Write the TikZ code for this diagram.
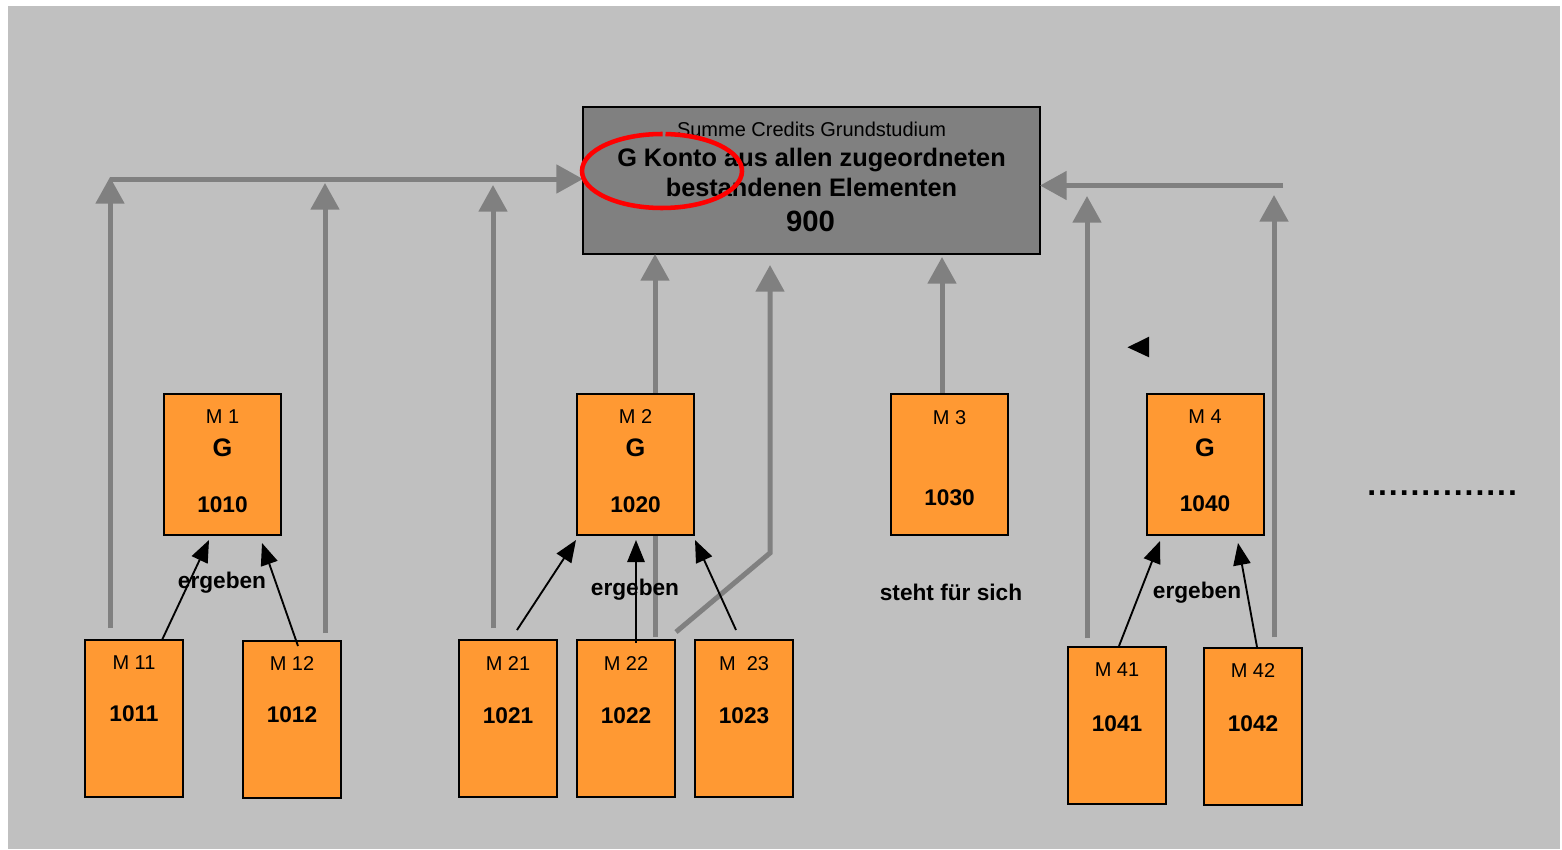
\documentclass[tikz,border=0pt]{standalone}
\usepackage{fontspec}
\setmainfont{Liberation Sans}
\usetikzlibrary{arrows.meta}
\definecolor{bggray}{RGB}{192,192,192}
\definecolor{lgray}{RGB}{128,128,128}
\definecolor{orng}{RGB}{255,153,51}
\definecolor{redc}{RGB}{255,0,0}
\newcommand\dd{.\kern1.45pt}
\begin{document}
\begin{tikzpicture}[x=0.75pt,y=-0.75pt,
  garrow/.style={draw=lgray,line width=3.75pt,-{Triangle[length=20pt,width=21pt]}},
  barrow/.style={draw=black,line width=1.4pt,-{Triangle[length=16.5pt,width=13pt]}},
  topbox/.style={draw=black,fill=lgray,line width=1.5pt,inner sep=0pt,outer sep=0pt,minimum width=342.75pt,minimum height=110.25pt},
  obox/.style={draw=black,fill=orng,line width=1.5pt,inner sep=0pt,outer sep=0pt,minimum width=87.75pt,minimum height=105.75pt},
  sbox/.style={obox,minimum width=73.5pt,minimum height=117.75pt},
  txt/.style={anchor=base,inner sep=0pt},
  mlbl/.style={txt,font=\fontsize{15}{17}\selectfont},
  glbl/.style={txt,font=\bfseries\fontsize{19}{21}\selectfont},
  clbl/.style={txt,font=\bfseries\fontsize{17}{19}\selectfont},
  elbl/.style={txt,font=\bfseries\fontsize{17}{19}\selectfont}
]
\useasboundingbox (0,0) rectangle (1562,849);
\fill[white] (0,0) rectangle (1562,849);
\fill[bggray] (8,6) rectangle (1560,849);

% top box
\node[topbox] (top) at (811.5,180.5) {};

% gray connectors
\coordinate (v1s) at (110,628);  \coordinate (v1e) at (110,177);
\coordinate (v2s) at (325,633);  \coordinate (v2e) at (325,183);
\coordinate (v3s) at (493,628);  \coordinate (v3e) at (493,185);
\coordinate (v4s) at (655,637);
\coordinate (v5s) at (676,632);  \coordinate (v5m) at (770,553); \coordinate (v5e) at (770,265);
\coordinate (v6s) at (942,394);  \coordinate (v6e) at (942,257);
\coordinate (v7s) at (1087,638); \coordinate (v7e) at (1087,196);
\coordinate (v8s) at (1274,637); \coordinate (v8e) at (1274,195);
\coordinate (h1) at (110,179);
\coordinate (h2) at (1283,185.5);

\draw[garrow] (v1s) -- (v1e);
\draw[garrow] (v2s) -- (v2e);
\draw[garrow] (v3s) -- (v3e);
\draw[garrow] (v4s) -- (v4s |- top.south);
\draw[garrow] (v5s) -- (v5m) -- (v5e);
\draw[garrow] (v6s) -- (v6e);
\draw[garrow] (v7s) -- (v7e);
\draw[garrow] (v8s) -- (v8e);
\draw[garrow] (h1) -- (h1 -| top.west);
\draw[garrow] (h2) -- (h2 -| top.east);

% orange boxes
\node[obox] (m1) at (222.5,464.5) {};
\node[obox] (m2) at (635.5,464.5) {};
\node[obox] (m3) at (949.5,464.5) {};
\node[obox] (m4) at (1205,464.5) {};
\node[sbox] (m11) at (134,718.5) {};
\node[sbox] (m12) at (292,719.5) {};
\node[sbox] (m21) at (508,718.5) {};
\node[sbox] (m22) at (626,718.5) {};
\node[sbox] (m23) at (744,718.5) {};
\node[sbox] (m41) at (1117,725.5) {};
\node[sbox] (m42) at (1253,726.5) {};

% black arrows
\coordinate (b1s) at (162,640);  \coordinate (b1e) at (209,540);
\coordinate (b2s) at (298,646);  \coordinate (b2e) at (262,543);
\coordinate (b3s) at (517,630);  \coordinate (b3e) at (576,540);
\coordinate (b4s) at (636,643);  \coordinate (b4e) at (636,540);
\coordinate (b5s) at (736,630);  \coordinate (b5e) at (695,540);
\coordinate (b6s) at (1119,646); \coordinate (b6e) at (1160,541);
\coordinate (b7s) at (1257,647); \coordinate (b7e) at (1238,543);
\draw[barrow] (b1s) -- (b1e);
\draw[barrow] (b2s) -- (b2e);
\draw[barrow] (b3s) -- (b3e);
\draw[barrow] (b4s) -- (b4e);
\draw[barrow] (b5s) -- (b5e);
\draw[barrow] (b6s) -- (b6e);
\draw[barrow] (b7s) -- (b7e);

% top box texts
\node[txt,font=\fontsize{15}{17}\selectfont] (t1) at (811.5,136.7) {Summe Credits Grundstudium};
\node[txt,font=\bfseries\fontsize{19}{21}\selectfont] (t2) at (811.5,166) {G Konto aus allen zugeordneten};
\node[txt,font=\bfseries\fontsize{19}{21}\selectfont] (t3) at (811.5,196.7) {bestandenen Elementen};
\node[txt,font=\bfseries\fontsize{22}{24}\selectfont] (t4) at (810.5,231.7) {900};

% module texts
\node[mlbl] (l1) at (222.5,423.3) {M 1};
\node[glbl] (g1) at (222.5,456) {G};
\node[clbl] (c1) at (222.5,512.3) {1010};
\node[mlbl] (l2) at (635.5,423.3) {M 2};
\node[glbl] (g2) at (635.5,456) {G};
\node[clbl] (c2) at (635.5,512.3) {1020};
\node[mlbl] (l3) at (949.5,424) {M 3};
\node[clbl] (c3) at (949.5,505) {1030};
\node[mlbl] (l4) at (1205,423.7) {M 4};
\node[glbl] (g4) at (1205,456) {G};
\node[clbl] (c4) at (1205,511.7) {1040};

\node[mlbl] (l11) at (134,669.3) {M 11};
\node[clbl] (c11) at (134,721) {1011};
\node[mlbl] (l12) at (292,670.7) {M 12};
\node[clbl] (c12) at (292,722.3) {1012};
\node[mlbl] (l21) at (508,670) {M 21};
\node[clbl] (c21) at (508,723.3) {1021};
\node[mlbl] (l22) at (626,670) {M 22};
\node[clbl] (c22) at (626,723.3) {1022};
\node[mlbl] (l23) at (744,670) {M\ \ 23};
\node[clbl] (c23) at (744,723.3) {1023};
\node[mlbl] (l41) at (1117,676.7) {M 41};
\node[clbl] (c41) at (1117,731) {1041};
\node[mlbl] (l42) at (1253,677.7) {M 42};
\node[clbl] (c42) at (1253,731.7) {1042};

% ergeben labels
\node[elbl] (e1) at (222,588) {ergeben};
\node[elbl] (e2) at (635,595) {ergeben};
\node[elbl] (e4) at (1197,598) {ergeben};
\node[elbl] (s3) at (951,600) {steht für sich};

% red ellipse with gap at top
\draw[redc,line width=3.4pt] (662.7,134.0) arc[start angle=89.5,end angle=447.5,x radius=60pt,y radius=27.75pt];

% small black arrowhead
\fill[black] (1127.5,347.3) -- (1149,336.7) -- (1149,357.3) -- cycle;

% dots
\node[anchor=base west,inner sep=0pt,font=\bfseries\fontsize{24}{24}\selectfont] (dots) at (1367,495) {\dd\dd\dd\dd\dd\dd\dd\dd\dd\dd\dd\dd\dd.};
\end{tikzpicture}
\end{document}
